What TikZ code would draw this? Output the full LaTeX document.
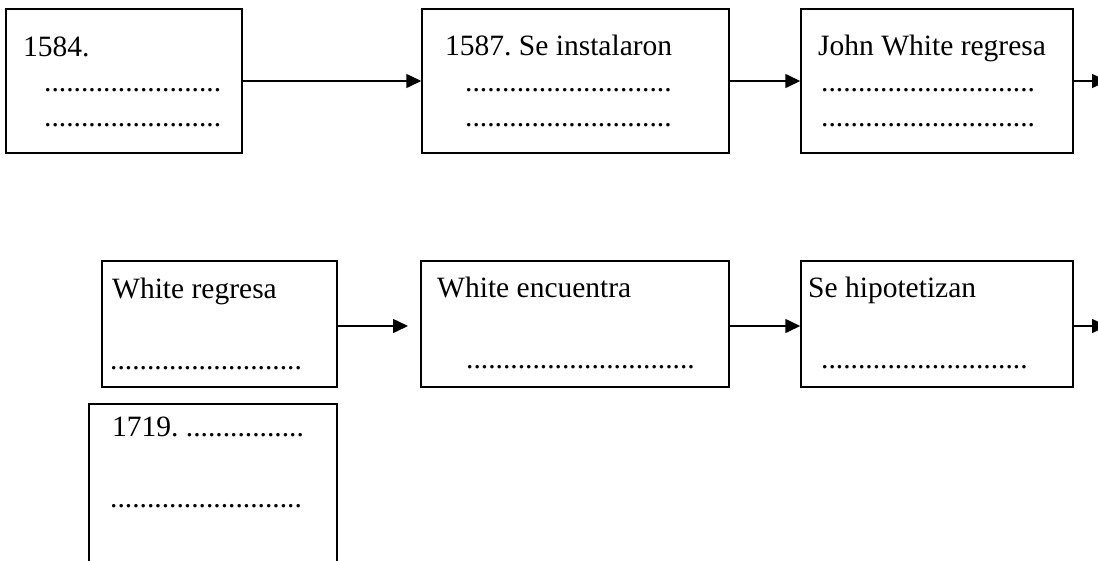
\documentclass[tikz,border=0pt]{standalone}
\usepackage{fontspec}
\setmainfont{Liberation Serif}
\usetikzlibrary{arrows.meta}
\begin{document}
\frenchspacing
\begin{tikzpicture}[x=1pt,y=-1pt,
  boxnode/.style={draw=black,line width=1.5pt,inner sep=0pt,minimum width=#1},
  txt/.style={anchor=base west,inner sep=0pt,font=\fontsize{29.5}{35}\selectfont},
  conn/.style={line width=1.6pt,-{Triangle[length=15pt,width=14pt]}}]
\useasboundingbox (0,0) rectangle (1098,560);
% row 1
\node[boxnode=236pt,minimum height=144pt] (b1) at (124,81) {};
\node[boxnode=307pt,minimum height=144pt] (b2) at (575.5,81) {};
\node[boxnode=272pt,minimum height=144pt] (b3) at (937,81) {};
% row 2
\node[boxnode=235pt,minimum height=126pt] (b4) at (219.5,324) {};
\node[boxnode=308pt,minimum height=126pt] (b5) at (575,324) {};
\node[boxnode=272pt,minimum height=126pt] (b6) at (937,324) {};
\node[boxnode=248pt,minimum height=186pt] (b7) at (213,497) {};
% texts
\node[txt] (t1) at (23,56) {1584.};
\node[txt] (d1a) at (44,91) {........................};
\node[txt] (d1b) at (44,126) {........................};
\node[txt] (t2) at (445,55) {1587. Se instalaron};
\node[txt] (d2a) at (465,91) {............................};
\node[txt] (d2b) at (465,126) {............................};
\node[txt] (t3) at (818,55) {John White regresa};
\node[txt] (d3a) at (821,91) {.............................};
\node[txt] (d3b) at (821,126) {.............................};
\node[txt] (t4) at (112,298) {White regresa};
\node[txt] (d4) at (110,369) {..........................};
\node[txt] (t5) at (437,297) {White encuentra};
\node[txt] (d5) at (466,368) {...............................};
\node[txt] (t6) at (808,297) {Se hipotetizan};
\node[txt] (d6) at (821,368) {............................};
\node[txt] (t7) at (112,436) {1719. ................};
\node[txt] (d7) at (110,507) {..........................};
% connectors
\coordinate (e3) at (1107,81);
\coordinate (e4) at (408,326);
\coordinate (e6) at (1107,326);
\draw[conn] (b1.east) -- (b2.west);
\draw[conn] (b2.east) -- (b3.west);
\draw[conn] (b3.east) -- (e3);
\draw[conn] (b4.east |- e4) -- (e4);
\draw[conn] (b5.east |- e4) -- (b6.west |- e4);
\draw[conn] (b6.east |- e6) -- (e6);
\end{tikzpicture}
\end{document}
